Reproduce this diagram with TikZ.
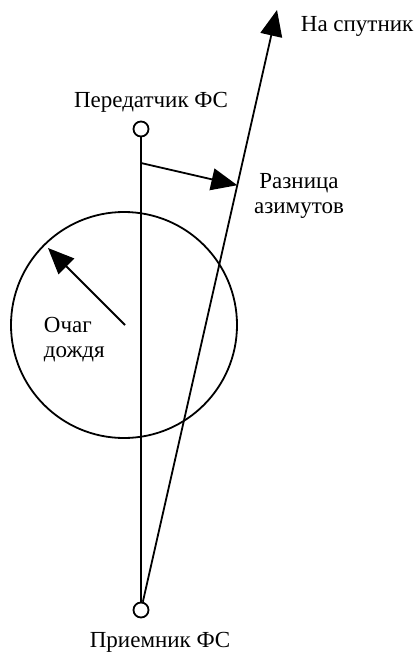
\documentclass[tikz,border=0pt]{standalone}
\usepackage{fontspec}
\setmainfont{Liberation Serif}
\usetikzlibrary{arrows.meta,calc}
\tikzset{
  lbl/.style={inner sep=0pt, font=\fontsize{23}{25}\selectfont},
  stn/.style={draw, circle, line width=1.8pt, minimum size=15pt, inner sep=0pt},
  bigarrow/.style={-{Triangle[length=26pt,width=22pt]}}
}
\begin{document}
\begin{tikzpicture}[x=1pt, y=-1pt, line width=1.8pt]
\useasboundingbox (0,0) rectangle (418,654);
\node[stn] (tx) at (141,129) {};
\node[stn] (rx) at (141,610) {};
\node[draw, circle, line width=1.8pt, minimum size=226pt] (rain) at (124,325) {};
\coordinate (sat) at (277,10);
\coordinate (az) at (141,163);
\coordinate (azend) at ($(rx)!0.708!(sat)$);
\coordinate (rc) at (125,325);
\coordinate (rtip) at (48,248);
\node[lbl, anchor=base west] (sat-lbl) at (300,31) {На спутник};
\node[lbl, anchor=base] (tx-lbl) at (151,107) {Передатчик ФС};
\node[lbl, align=center] (az-lbl) at (299,196) {Разница\\азимутов};
\node[lbl, align=left, anchor=north west] (rain-lbl) at (43,316) {Очаг\\дождя};
\node[lbl, anchor=base] (rx-lbl) at (160,647) {Приемник ФС};
\draw (tx) -- (rx);
\draw[bigarrow] (rx) -- (sat);
\draw[bigarrow] (az) -- (azend);
\draw[bigarrow] (rc) -- (rtip);
\end{tikzpicture}
\end{document}
